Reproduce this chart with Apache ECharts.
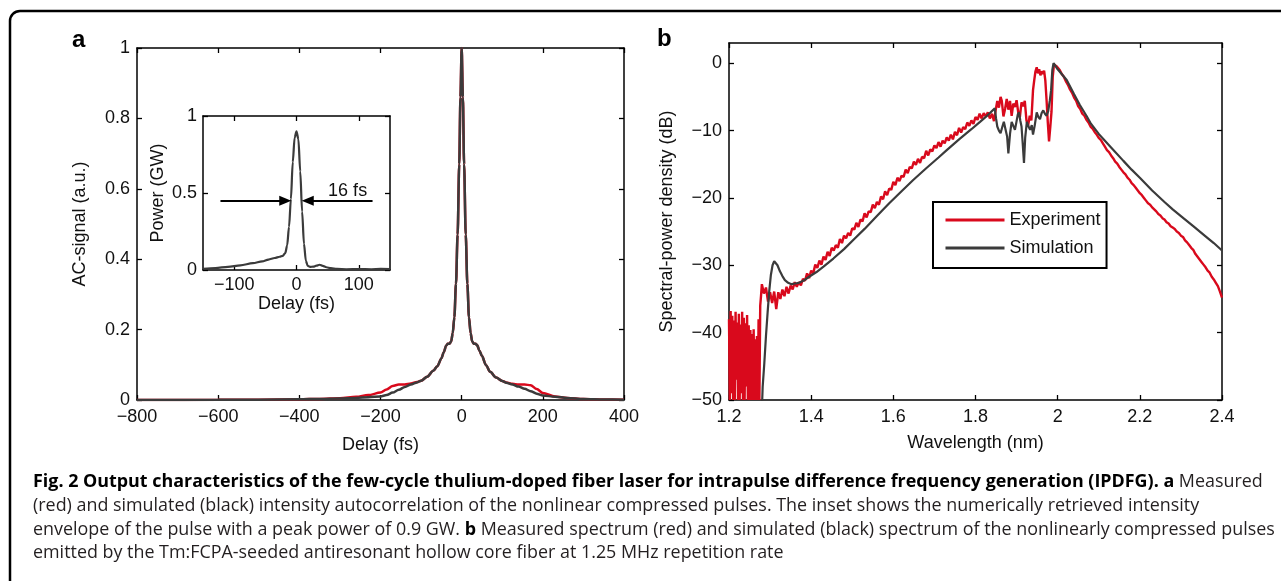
<!DOCTYPE html>
<html>
<head>
<meta charset="utf-8">
<script src="https://cdn.jsdelivr.net/npm/echarts@6/dist/echarts.min.js"></script>
<style>
html,body{margin:0;padding:0;background:#fff;}
#fig{width:1281px;height:581px;}
</style>
</head>
<body>
<div id="fig"></div>
<script>
// ---------- panel a : intensity autocorrelation ----------
const acDelay = [
  -800,-600,-500,-400,-350,-300,-260,-230,-200,-185,
  -170,-155,-140,-125,-110,-100,-85,-70,-60,-50,
  -44,-38,-34,-30,-26,-22,-18,-14,-10,-6,
  -3,0,3,6,10,14,18,22,26,30,
  34,38,44,50,60,70,85,100,110,125,
  140,155,170,185,200,230,260,300,350,400
];
const acMeasured = [
  0.000,0.0005,0.001,0.002,0.003,0.005,0.009,0.014,0.021,0.030,
  0.040,0.044,0.044,0.047,0.051,0.055,0.066,0.083,0.096,0.118,
  0.136,0.155,0.160,0.160,0.166,0.190,0.235,0.330,0.470,0.670,
  0.860,1.000,0.860,0.670,0.470,0.330,0.235,0.190,0.166,0.160,
  0.160,0.156,0.140,0.125,0.099,0.080,0.064,0.054,0.050,0.046,
  0.044,0.044,0.042,0.031,0.020,0.010,0.006,0.003,0.0015,0.001
];
const acSimulated = [
  0.000,0.0005,0.001,0.002,0.003,0.004,0.006,0.008,0.010,0.014,
  0.021,0.029,0.037,0.044,0.050,0.055,0.066,0.083,0.096,0.118,
  0.136,0.155,0.160,0.160,0.166,0.190,0.235,0.330,0.470,0.670,
  0.860,1.000,0.860,0.670,0.470,0.330,0.235,0.190,0.166,0.160,
  0.160,0.156,0.140,0.125,0.099,0.080,0.064,0.054,0.049,0.044,
  0.038,0.032,0.025,0.018,0.013,0.009,0.006,0.003,0.0015,0.001
];
const acTicksX = [-800,-600,-400,-200,0,200,400];
const acTicksY = [0,0.2,0.4,0.6,0.8,1];

// inset : retrieved pulse envelope
const pulseDelay = [
  -150,-130,-110,-90,-70,-55,-45,-35,-27,-22,
  -18,-15,-12,-9,-6,-3,0,3,6,9,
  12,15,18,22,27,32,37,42,48,55,
  65,80,100,120,135,150
];
const pulsePower = [
  0.008,0.013,0.020,0.030,0.044,0.056,0.068,0.078,0.086,0.092,
  0.110,0.160,0.280,0.460,0.700,0.860,0.900,0.850,0.640,0.380,
  0.170,0.060,0.027,0.020,0.022,0.028,0.034,0.027,0.018,0.012,
  0.007,0.005,0.006,0.005,0.007,0.006
];
const pulseTicksX = [-100,0,100];
const pulseTicksY = [0,0.5,1];
const fwhmArrows = [[[-122,0.45],[-18,0.45]],[[122,0.45],[18,0.45]]];
const fwhmText = {label:'16 fs', at:[82,0.51]};

// ---------- panel b : spectrum (wavelength um, dB) ----------
const expLowEdge = [
  [1.200,-38.0],[1.202,-50],[1.204,-36.8],[1.206,-49],[1.208,-37.5],[1.210,-50],[1.212,-38.2],[1.214,-50],[1.216,-36.9],[1.218,-47],
  [1.220,-38.5],[1.222,-50],[1.224,-37.2],[1.226,-50],[1.228,-38.8],[1.230,-49],[1.232,-36.9],[1.234,-50],[1.236,-37.8],[1.238,-50],
  [1.240,-38.6],[1.242,-48],[1.244,-37.4],[1.246,-50],[1.248,-38.9],[1.250,-50],[1.252,-39.6],[1.254,-50],[1.256,-40.2],[1.258,-50],
  [1.260,-39.5],[1.262,-50],[1.264,-41.0],[1.266,-50],[1.268,-40.5],[1.270,-50],[1.272,-38.0],[1.274,-50],[1.276,-36.0],[1.278,-34.5]
];
const expRise = [
  [1.280,-32.8],[1.285,-34.2],[1.290,-33.3],[1.295,-35.4],[1.300,-34.0],[1.305,-35.6],[1.310,-33.9],[1.315,-36.5],[1.320,-34.0],[1.325,-35.0],
  [1.330,-33.6],[1.335,-34.6],[1.340,-33.2],[1.345,-34.2],[1.350,-33.0],[1.355,-33.6],[1.360,-32.5],[1.365,-33.2],[1.370,-32.5],[1.375,-33.0],
  [1.380,-32.0],[1.385,-32.3],[1.390,-31.2],[1.395,-31.9],[1.400,-30.8],[1.405,-31.2],[1.410,-29.9],[1.415,-30.4],[1.420,-29.3],[1.425,-29.9],
  [1.430,-28.7],[1.435,-29.2],[1.440,-28.0],[1.445,-28.6],[1.450,-27.4],[1.455,-27.8],[1.460,-27.0],[1.465,-27.4],[1.470,-26.1],[1.475,-26.7],
  [1.480,-25.6],[1.485,-26.0],[1.490,-25.2],[1.495,-25.6],[1.500,-24.5],[1.505,-24.7],[1.510,-23.7],[1.515,-24.3],[1.520,-23.2],[1.525,-23.5],
  [1.530,-22.3],[1.535,-22.9],[1.540,-22.0],[1.545,-22.1],[1.550,-21.0],[1.555,-21.5],[1.560,-20.6],[1.565,-21.0],[1.570,-19.8],[1.575,-20.2],
  [1.580,-19.0],[1.585,-19.6],[1.590,-18.6],[1.595,-18.8],[1.600,-17.6],[1.605,-18.1],[1.610,-17.0],[1.615,-17.5],[1.620,-16.7],[1.625,-16.9],
  [1.630,-15.8],[1.635,-16.3],[1.640,-15.4],[1.645,-15.6],[1.650,-14.6],[1.655,-15.1],[1.660,-14.2],[1.665,-14.8],[1.670,-13.9],[1.675,-14.1],
  [1.680,-13.0],[1.685,-13.7],[1.690,-12.8],[1.695,-13.1],[1.700,-12.2],[1.705,-12.6],[1.710,-11.7],[1.715,-12.4],[1.720,-11.5],[1.725,-11.9],
  [1.730,-11.0],[1.735,-11.5],[1.740,-10.6],[1.745,-11.3],[1.750,-10.2],[1.755,-10.7],[1.760,-9.6],[1.765,-10.3],[1.770,-9.5],[1.775,-9.8],
  [1.780,-8.8],[1.785,-9.3],[1.790,-8.5],[1.795,-9.0],[1.800,-8.0],[1.805,-8.4],[1.810,-7.5],[1.815,-8.2],[1.820,-7.4],[1.825,-7.9],
  [1.830,-7.3],[1.835,-8.2],[1.840,-7.5]
];
const expPeak = [
  [1.845,-8.6],[1.849,-7.0],[1.853,-5.6],[1.857,-6.6],[1.861,-5.0],[1.864,-5.6],[1.868,-7.9],[1.872,-6.8],[1.876,-5.3],[1.880,-6.9],
  [1.884,-5.6],[1.888,-7.8],[1.892,-6.0],[1.896,-6.5],[1.900,-5.5],[1.904,-7.3],[1.908,-8.0],[1.912,-5.8],[1.916,-6.4],[1.920,-5.6],
  [1.924,-8.5],[1.928,-9.3],[1.932,-7.8],[1.936,-8.5],[1.940,-4.0],[1.943,-2.5],[1.946,-1.2],[1.949,-0.6],[1.952,-1.5],[1.955,-0.9],
  [1.958,-1.8],[1.961,-1.2],[1.964,-1.6],[1.967,-1.1],[1.970,-2.6],[1.973,-5.5],[1.976,-8.8],[1.979,-11.6],[1.982,-9.5],[1.985,-7.2],
  [1.988,-2.0],[1.991,-0.2],[1.994,-0.1],[1.998,-0.5]
];
const expFall = [
  [2.000,-0.6],[2.005,-1.0],[2.010,-1.6],[2.015,-2.0],[2.020,-2.7],[2.025,-3.2],[2.030,-3.9],[2.035,-4.4],[2.040,-5.1],[2.045,-5.6],
  [2.050,-6.4],[2.055,-6.8],[2.060,-7.5],[2.065,-7.8],[2.070,-8.4],[2.075,-8.8],[2.080,-9.4],[2.085,-9.7],[2.090,-10.2],[2.095,-10.6],
  [2.100,-11.1],[2.105,-11.4],[2.110,-11.9],[2.115,-12.4],[2.120,-12.9],[2.125,-13.2],[2.130,-13.7],[2.135,-14.1],[2.140,-14.6],[2.145,-14.9],
  [2.150,-15.4],[2.155,-15.8],[2.160,-16.2],[2.165,-16.5],[2.170,-17.0],[2.175,-17.3],[2.180,-17.8],[2.185,-18.1],[2.190,-18.5],[2.195,-18.9],
  [2.200,-19.3],[2.205,-19.6],[2.210,-20.0],[2.215,-20.4],[2.220,-20.8],[2.225,-21.0],[2.230,-21.4],[2.235,-21.7],[2.240,-22.0],[2.245,-22.4],
  [2.250,-22.6],[2.255,-23.0],[2.260,-23.2],[2.265,-23.6],[2.270,-23.8],[2.275,-24.2],[2.280,-24.4],[2.285,-24.6],[2.290,-25.0],[2.295,-25.2],
  [2.300,-25.6],[2.305,-25.8],[2.310,-26.3],[2.315,-26.6],[2.320,-27.0],[2.325,-27.4],[2.330,-27.7],[2.335,-28.3],[2.340,-28.7],[2.345,-29.1],
  [2.350,-29.5],[2.355,-29.9],[2.360,-30.3],[2.365,-30.8],[2.370,-31.1],[2.375,-31.7],[2.380,-32.1],[2.385,-32.6],[2.390,-33.1],[2.395,-33.9],
  [2.400,-34.8]
];
const simRise = [
  [1.278,-55],[1.282,-48],[1.286,-44.5],[1.290,-40.5],[1.294,-37.0],[1.298,-33.8],[1.302,-31.4],[1.306,-30.0],[1.310,-29.4],[1.314,-29.5],
  [1.318,-30.0],[1.324,-30.9],[1.330,-31.6],[1.336,-32.2],[1.344,-32.6],[1.352,-32.8],[1.361,-32.7],[1.370,-32.6],[1.381,-32.3],[1.395,-31.7],
  [1.413,-31.0],[1.430,-30.2],[1.454,-29.0],[1.480,-27.6],[1.503,-26.2],[1.530,-24.6],[1.560,-22.7],[1.590,-20.8],[1.620,-19.0],[1.649,-17.3],
  [1.680,-15.6],[1.710,-14.0],[1.730,-12.9],[1.760,-11.3],[1.790,-9.8],[1.811,-8.7],[1.830,-7.7],[1.847,-6.7]
];
const simPeak = [
  [1.850,-8.2],[1.853,-9.4],[1.857,-10.0],[1.861,-10.4],[1.865,-9.5],[1.869,-8.7],[1.873,-9.8],[1.877,-10.9],[1.880,-13.4],[1.884,-10.5],
  [1.888,-8.7],[1.892,-9.3],[1.896,-9.9],[1.900,-8.6],[1.903,-7.6],[1.906,-7.3],[1.909,-8.5],[1.912,-9.4],[1.915,-12.0],[1.918,-14.8],
  [1.921,-11.0],[1.925,-8.7],[1.929,-9.4],[1.933,-9.9],[1.937,-9.2],[1.940,-10.6],[1.944,-9.3],[1.949,-7.3],[1.953,-8.0],[1.957,-8.3],
  [1.961,-7.4],[1.965,-7.0],[1.969,-7.5],[1.973,-7.8],[1.977,-7.1],[1.981,-5.5],[1.984,-4.0],[1.987,-1.0],[1.990,0.0]
];
const simFall = [
  [2.000,-0.9],[2.022,-2.5],[2.040,-4.6],[2.054,-6.2],[2.070,-7.8],[2.080,-8.9],[2.100,-10.5],[2.130,-12.5],[2.160,-14.5],[2.180,-15.8],
  [2.200,-17.0],[2.230,-18.9],[2.260,-20.6],[2.280,-21.7],[2.300,-22.7],[2.330,-24.2],[2.360,-25.7],[2.380,-26.7],[2.400,-27.8]
];
const specTicksX = [1.2,1.4,1.6,1.8,2.0,2.2,2.4];
const specTicksY = [-50,-40,-30,-20,-10,0];

const captionLines = [
  '{b|Fig. 2 Output characteristics of the few-cycle thulium-doped fiber laser for intrapulse difference frequency generation (IPDFG). a}{r| Measured}',
  '{r|(red) and simulated (black) intensity autocorrelation of the nonlinear compressed pulses. The inset shows the numerically retrieved intensity}',
  '{r|envelope of the pulse with a peak power of 0.9 GW. }{b|b}{r| Measured spectrum (red) and simulated (black) spectrum of the nonlinearly compressed pulses}',
  '{r|emitted by the Tm:FCPA-seeded antiresonant hollow core fiber at 1.25 MHz repetition rate}'
];

const FONT = 'Liberation Sans';
const RED = '#d9091c';
const DARK = '#3b3b3b';

const zip = (xs, ys) => xs.map((x, i) => [x, ys[i]]);
const minus = v => (v < 0 ? '\u2212' + Math.abs(v) : String(v));

function makeAxis(o){
  return {
    type:'value', gridIndex:o.grid, position:o.pos, min:o.min, max:o.max,
    name:o.name || '', nameLocation:'middle', nameGap:o.nameGap || 0,
    nameTextStyle:{fontFamily:FONT, fontSize:18, color:'#111'},
    axisLine:{show:true, onZero:false, lineStyle:{color:'#000', width:1.5}},
    axisTick:{show:true, inside:true, length:5, customValues:o.ticks,
      lineStyle:{color:'#000', width:1.3}},
    axisLabel:{show:!!o.labels, customValues:o.ticks, margin:o.margin || 7,
      fontFamily:FONT, fontSize:18, color:'#111', formatter:minus},
    splitLine:{show:false}
  };
}

const chart = echarts.init(document.getElementById('fig'), null, {renderer:'canvas'});

const captionGraphics = captionLines.map((t, i) => ({
  type:'text', left:33, top:473 + i * 23.8, silent:true,
  style:{
    text:t,
    rich:{
      b:{fontFamily:'Open Sans', fontWeight:'bold', fontSize:17.9, fill:'#000'},
      r:{fontFamily:'Open Sans', fontSize:17.9, fill:'#231f20'}
    }
  }
}));

chart.setOption({
  animation:false,
  backgroundColor:'#fff',
  grid:[
    {left:137, top:48, width:487, height:352},
    {left:203, top:116, width:187, height:154},
    {left:729, top:43, width:493, height:357}
  ],
  xAxis:[
    makeAxis({grid:0, pos:'bottom', min:-800, max:400, ticks:acTicksX, labels:true, name:'Delay (fs)', nameGap:36, margin:8}),
    makeAxis({grid:0, pos:'top', min:-800, max:400, ticks:acTicksX}),
    makeAxis({grid:1, pos:'bottom', min:-150, max:150, ticks:pulseTicksX, labels:true, name:'Delay (fs)', nameGap:24, margin:6}),
    makeAxis({grid:1, pos:'top', min:-150, max:150, ticks:pulseTicksX}),
    makeAxis({grid:2, pos:'bottom', min:1.2, max:2.4, ticks:specTicksX, labels:true, name:'Wavelength (nm)', nameGap:34, margin:8}),
    makeAxis({grid:2, pos:'top', min:1.2, max:2.4, ticks:specTicksX})
  ],
  yAxis:[
    makeAxis({grid:0, pos:'left', min:0, max:1, ticks:acTicksY, labels:true, name:'AC-signal (a.u.)', nameGap:48}),
    makeAxis({grid:0, pos:'right', min:0, max:1, ticks:acTicksY}),
    makeAxis({grid:1, pos:'left', min:0, max:1, ticks:pulseTicksY, labels:true, name:'Power (GW)', nameGap:36, margin:6}),
    makeAxis({grid:1, pos:'right', min:0, max:1, ticks:pulseTicksY}),
    makeAxis({grid:2, pos:'left', min:-50, max:3, ticks:specTicksY, labels:true, name:'Spectral-power density (dB)', nameGap:53}),
    makeAxis({grid:2, pos:'right', min:-50, max:3, ticks:specTicksY})
  ],
  legend:{
    data:['Experiment','Simulation'], orient:'vertical', left:933, top:202,
    itemWidth:59, itemHeight:14, itemGap:10, padding:[9,6,11,11],
    borderColor:'#000', borderWidth:2, backgroundColor:'#fff', borderRadius:0,
    itemStyle:{opacity:0, borderWidth:0},
    lineStyle:{width:3},
    textStyle:{fontFamily:FONT, fontSize:18, color:'#111'}
  },
  series:[
    {name:'AC measured', type:'line', xAxisIndex:0, yAxisIndex:0, data:zip(acDelay, acMeasured),
      symbol:'none', smooth:0.3, smoothMonotone:'x', lineStyle:{color:RED, width:2.5}, itemStyle:{color:RED}},
    {name:'AC simulated', type:'line', xAxisIndex:0, yAxisIndex:0, data:zip(acDelay, acSimulated),
      symbol:'none', smooth:0.3, smoothMonotone:'x', lineStyle:{color:DARK, width:2.5}, itemStyle:{color:DARK}},
    {name:'Pulse', type:'line', xAxisIndex:2, yAxisIndex:2, data:zip(pulseDelay, pulsePower),
      symbol:'none', smooth:0.3, smoothMonotone:'x', lineStyle:{color:DARK, width:2.2}, itemStyle:{color:DARK},
      markLine:{
        silent:true, symbol:['none','triangle'], symbolSize:[10,12],
        lineStyle:{color:'#000', width:1.8, type:'solid'}, label:{show:false},
        data:fwhmArrows.map(a => [{coord:a[0]}, {coord:a[1]}])
      },
      markPoint:{
        silent:true, symbol:'circle', symbolSize:1, itemStyle:{color:'rgba(0,0,0,0)'},
        label:{show:true, position:'inside', formatter:fwhmText.label, fontFamily:FONT, fontSize:18, color:'#111'},
        data:[{coord:fwhmText.at}]
      }},
    {name:'Experiment', type:'line', xAxisIndex:4, yAxisIndex:4,
      data:expLowEdge.concat(expRise, expPeak, expFall),
      symbol:'none', lineStyle:{color:RED, width:2.4}, itemStyle:{color:RED}},
    {name:'Simulation', type:'line', xAxisIndex:4, yAxisIndex:4,
      data:simRise.concat(simPeak, simFall),
      symbol:'none', lineStyle:{color:DARK, width:2.2}, itemStyle:{color:DARK}}
  ],
  graphic:[
    {type:'rect', silent:true, shape:{x:10, y:11, width:1300, height:620, r:10},
      style:{fill:'none', stroke:'#000', lineWidth:2.5}},
    {type:'text', left:72, top:28, silent:true,
      style:{text:'a', fontFamily:FONT, fontWeight:'bold', fontSize:24, fill:'#000'}},
    {type:'text', left:657, top:27, silent:true,
      style:{text:'b', fontFamily:FONT, fontWeight:'bold', fontSize:24, fill:'#000'}}
  ].concat(captionGraphics)
});

window.addEventListener('resize', () => chart.resize());
</script>
</body>
</html>
